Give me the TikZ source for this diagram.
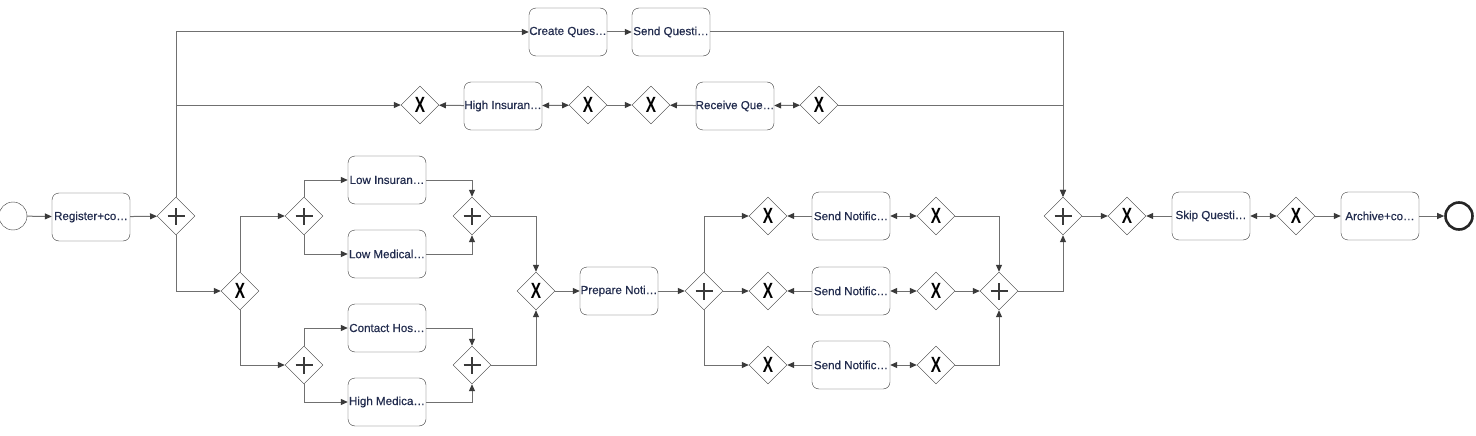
\documentclass[tikz,border=0pt]{standalone}
\usepackage{graphicx}
\usepackage{fontspec}
\setmainfont{Liberation Sans}
\newfontfamily\taskfont[FakeBold=0.5]{Liberation Sans}
\usetikzlibrary{shapes.geometric,arrows.meta}

\definecolor{flowgray}{RGB}{112,112,112}
\definecolor{taskline}{RGB}{58,58,58}
\definecolor{labelblue}{RGB}{34,44,78}

\newcommand{\gwX}{\scalebox{0.7}[1]{\bfseries X}}
\newcommand{\tasklabel}[1]{\makebox[76pt][c]{#1}}

\tikzset{
  >={Triangle[length=7pt,width=6pt,color=taskline]},
  task/.style={draw=taskline, rounded corners=7pt, minimum width=77pt, inner sep=1pt,
    minimum height=48pt, font=\taskfont\fontsize{11.6}{12}\selectfont, text=labelblue},
  gw/.style={draw=taskline, diamond, minimum size=38pt, inner sep=0pt, fill=white},
  xgw/.style={gw, font=\fontsize{22}{22}\selectfont},
  pgw/.style={gw, path picture={
    \draw[line width=1.6pt] ([xshift=-8.5pt]path picture bounding box.center) -- ([xshift=8.5pt]path picture bounding box.center);
    \draw[line width=1.6pt] ([yshift=-8.5pt]path picture bounding box.center) -- ([yshift=8.5pt]path picture bounding box.center);}},
  flow/.style={draw=flowgray, line width=1pt},
}

\begin{document}
\begin{tikzpicture}[x=1pt,y=-1pt]
  \useasboundingbox[fill=white] (0,0) rectangle (1476,436);

  % events
  \node[draw=taskline, circle, minimum size=28pt, inner sep=0pt] (start) at (13,216) {};
  \node[draw=black!85, circle, line width=2.6pt, minimum size=27pt, inner sep=0pt] (end) at (1459,216) {};

  % tasks
  \node[task] (reg) at (91,217) {\tasklabel{Register+co…}};
  \node[task] (cq) at (568,32) {\tasklabel{Create Ques…}};
  \node[task] (sq) at (671,32) {\tasklabel{Send Questi…}};
  \node[task] (hi) at (503,106) {\tasklabel{High Insuran…}};
  \node[task] (rq) at (735,106) {\tasklabel{Receive Que…}};
  \node[task] (li) at (387,180) {\tasklabel{Low Insuran…}};
  \node[task] (lm) at (387,254) {\tasklabel{Low Medical…}};
  \node[task] (ch) at (387,328) {\tasklabel{Contact Hos…}};
  \node[task] (hm) at (387,402) {\tasklabel{High Medica…}};
  \node[task] (prep) at (619,291) {\tasklabel{Prepare Noti…}};
  \node[task] (snA) at (851,216) {\tasklabel{Send Notific…}};
  \node[task] (snB) at (851,291) {\tasklabel{Send Notific…}};
  \node[task] (snC) at (851,365) {\tasklabel{Send Notific…}};
  \node[task] (skip) at (1211,216) {\tasklabel{Skip Questi…}};
  \node[task] (arch) at (1380,216) {\tasklabel{Archive+co…}};

  % gateways
  \node[pgw] (pA) at (176,216) {};
  \node[xgw] (xA) at (420,105) {\gwX};
  \node[xgw] (xB) at (588,105) {\gwX};
  \node[xgw] (xC) at (651,105) {\gwX};
  \node[xgw] (xD) at (819,105) {\gwX};
  \node[xgw] (xE) at (240,291) {\gwX};
  \node[pgw] (pB) at (304,216) {};
  \node[pgw] (pC) at (472,216) {};
  \node[pgw] (pD) at (304,365) {};
  \node[pgw] (pE) at (472,365) {};
  \node[xgw] (xF) at (536,291) {\gwX};
  \node[pgw] (pF) at (704,291) {};
  \node[xgw] (xG) at (768,216) {\gwX};
  \node[xgw] (xH) at (936,216) {\gwX};
  \node[xgw] (xI) at (768,291) {\gwX};
  \node[xgw] (xJ) at (936,291) {\gwX};
  \node[xgw] (xK) at (768,365) {\gwX};
  \node[xgw] (xL) at (936,365) {\gwX};
  \node[pgw] (pG) at (999,291) {};
  \node[pgw] (pH) at (1063,216) {};
  \node[xgw] (xM) at (1127,216) {\gwX};
  \node[xgw] (xN) at (1296,216) {\gwX};

  % flows
  \draw[flow,->] (start) -- (reg);
  \draw[flow,->] (reg) -- (pA);
  \draw[flow,->] (pA.north) |- (cq.west);
  \draw[flow,->] (cq) -- (sq);
  \draw[flow,->] (sq.east) -| (pH.north);
  \draw[flow,->] (pA.north) |- (xA.west);
  \draw[flow,->] (hi) -- (xA);
  \draw[flow,<->] (hi) -- (xB);
  \draw[flow,->] (xB) -- (xC);
  \draw[flow,->] (rq) -- (xC);
  \draw[flow,<->] (rq) -- (xD);
  \draw[flow,->] (xD.east) -| (pH.north);

  \draw[flow,->] (pA.south) |- (xE.west);
  \draw[flow,->] (xE.north) |- (pB.west);
  \draw[flow,->] (pB.north) |- (li.west);
  \draw[flow,->] (pB.south) |- (lm.west);
  \draw[flow,->] (li.east) -| (pC.north);
  \draw[flow,->] (lm.east) -| (pC.south);
  \draw[flow,->] (pC.east) -| (xF.north);
  \draw[flow,->] (xE.south) |- (pD.west);
  \draw[flow,->] (pD.north) |- (ch.west);
  \draw[flow,->] (pD.south) |- (hm.west);
  \draw[flow,->] (ch.east) -| (pE.north);
  \draw[flow,->] (hm.east) -| (pE.south);
  \draw[flow,->] (pE.east) -| (xF.south);

  \draw[flow,->] (xF) -- (prep);
  \draw[flow,->] (prep) -- (pF);
  \draw[flow,->] (pF.north) |- (xG.west);
  \draw[flow,->] (pF) -- (xI);
  \draw[flow,->] (pF.south) |- (xK.west);
  \draw[flow,->] (snA) -- (xG);
  \draw[flow,<->] (snA) -- (xH);
  \draw[flow,->] (snB) -- (xI);
  \draw[flow,<->] (snB) -- (xJ);
  \draw[flow,->] (snC) -- (xK);
  \draw[flow,<->] (snC) -- (xL);
  \draw[flow,->] (xH.east) -| (pG.north);
  \draw[flow,->] (xJ) -- (pG);
  \draw[flow,->] (xL.east) -| (pG.south);

  \draw[flow,->] (pG.east) -| (pH.south);
  \draw[flow,->] (pH) -- (xM);
  \draw[flow,->] (skip) -- (xM);
  \draw[flow,<->] (skip) -- (xN);
  \draw[flow,->] (xN) -- (arch);
  \draw[flow,->] (arch) -- (end);
\end{tikzpicture}
\end{document}
